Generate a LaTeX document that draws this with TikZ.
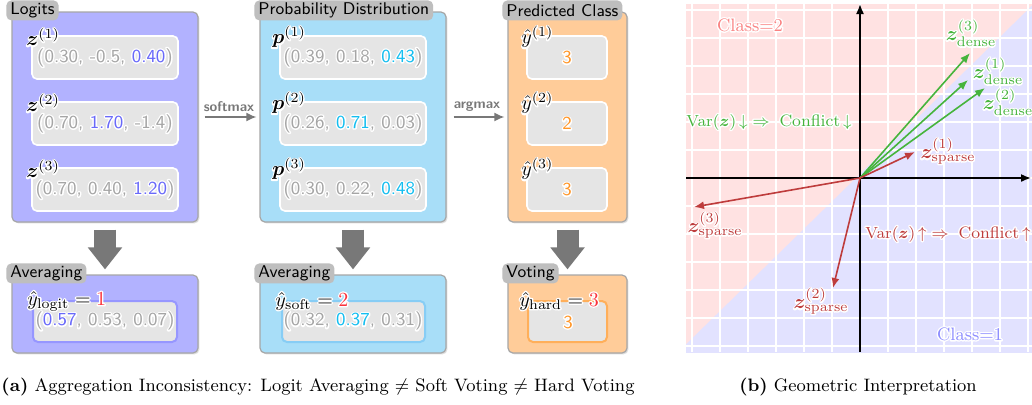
\documentclass[tikz,border=0pt]{standalone}
\usepackage{bm}
\usetikzlibrary{arrows.meta,shadows}
\definecolor{lav}{RGB}{178,178,255}
\definecolor{sky}{RGB}{168,222,248}
\definecolor{peach}{RGB}{255,204,153}
\definecolor{lavborder}{RGB}{150,150,255}
\definecolor{skyborder}{RGB}{135,205,245}
\definecolor{peachborder}{RGB}{255,175,90}
\definecolor{tabgray}{RGB}{190,190,190}
\definecolor{innergray}{RGB}{229,229,229}
\definecolor{valgray}{RGB}{165,165,165}
\definecolor{hlblue}{RGB}{105,105,250}
\definecolor{hlcyan}{RGB}{20,190,240}
\definecolor{hlorange}{RGB}{255,150,40}
\definecolor{hlred}{RGB}{250,50,60}
\definecolor{pinkbg}{RGB}{255,226,226}
\definecolor{lavbg}{RGB}{226,226,255}
\definecolor{vgreen}{RGB}{70,180,60}
\definecolor{vred}{RGB}{190,60,60}
\definecolor{classred}{RGB}{250,130,130}
\definecolor{classblue}{RGB}{140,140,255}
\definecolor{arrowgray}{RGB}{120,120,120}
% text with a white halo: one stroked white copy under the coloured text
\newcommand{\ctr}[2]{\leavevmode\rlap{\special{pdf:literal direct q 1 Tr 1 1 1 RG 1.4 w 1 j 1 J}#2\special{pdf:literal direct Q}}{\color{#1}#2}}
\begin{document}
\begin{tikzpicture}[x=0.5pt,y=-0.5pt,
 outerbox/.style={draw=black!35, line width=0.6pt, rounded corners=2.5pt, drop shadow={shadow xshift=0.7pt, shadow yshift=-0.7pt, opacity=0.25}, inner sep=0pt},
 tabbox/.style={fill=tabgray, rounded corners=2.5pt, anchor=north west, minimum height=10pt, inner xsep=2pt, inner ysep=0pt, font=\sffamily\fontsize{8.5}{10}\selectfont},
 innerbox/.style={fill=innergray, draw=white, line width=0.8pt, rounded corners=2.5pt, inner sep=0pt},
 valtxt/.style={font=\sffamily\fontsize{9.2}{11}\selectfont, inner sep=0pt},
 labtxt/.style={font=\fontsize{10}{12}\selectfont, inner sep=0pt, anchor=west},
 flow/.style={draw=arrowgray, line width=0.8pt, -{Latex[length=5pt,width=4.5pt]}},
 flowlab/.style={font=\sffamily\bfseries\fontsize{7}{8}\selectfont, text=arrowgray, inner sep=1pt},
 bigarrow/.style={draw=arrowgray, line width=11pt, -{Triangle[length=11pt,width=16.5pt]}},
 vec/.style={line width=0.8pt, -{Latex[length=5pt,width=4pt]}},
 axisline/.style={line width=0.8pt, -{Latex[length=5pt,width=4pt]}},
 plab/.style={font=\fontsize{10}{12}\selectfont, inner sep=0pt},
 ptxt/.style={font=\fontsize{9}{11}\selectfont, inner sep=0pt},
 vartxt/.style={font=\fontsize{8.3}{10}\selectfont, inner sep=0pt, anchor=west},
 captxt/.style={font=\fontsize{9}{11}\selectfont, inner sep=0pt}]
\fill[white] (0,0) rectangle (1032,404);
\useasboundingbox (0,0) rectangle (1032,404);

% ---------- top row ----------
\node[outerbox, fill=lav, minimum width=93pt, minimum height=105pt] (logits) at (105,117) {};
\node[outerbox, fill=sky, minimum width=93pt, minimum height=105pt] (prob) at (353,117) {};
\node[outerbox, fill=peach, minimum width=59.5pt, minimum height=105pt] (cls) at (567.5,117) {};
\node[tabbox] (tlogits) at (6,0) {Logits};
\node[tabbox] (tprob) at (254,0) {Probability Distribution};
\node[tabbox] (tcls) at (502,0) {Predicted Class};

\foreach \i/\y in {1/57.5,2/123.5,3/189.5}{
  \node[innerbox, minimum width=73pt, minimum height=21.5pt] (lb\i) at (105,\y) {};
  \node[innerbox, minimum width=73pt, minimum height=21.5pt] (pb\i) at (353,\y) {};
  \node[innerbox, minimum width=40pt, minimum height=21.5pt] (cb\i) at (567,\y) {};
}
\node[valtxt] (lv1) at (105,57.5) {\ctr{valgray}{(0.30, -0.5,} \ctr{hlblue}{0.40}\ctr{valgray}{)}};
\node[valtxt] (lv2) at (105,123.5) {\ctr{valgray}{(0.70,} \ctr{hlblue}{1.70}\ctr{valgray}{, -1.4)}};
\node[valtxt] (lv3) at (105,189.5) {\ctr{valgray}{(0.70, 0.40,} \ctr{hlblue}{1.20}\ctr{valgray}{)}};
\node[valtxt] (pv1) at (353,57.5) {\ctr{valgray}{(0.39, 0.18,} \ctr{hlcyan}{0.43}\ctr{valgray}{)}};
\node[valtxt] (pv2) at (353,123.5) {\ctr{valgray}{(0.26,} \ctr{hlcyan}{0.71}\ctr{valgray}{, 0.03)}};
\node[valtxt] (pv3) at (353,189.5) {\ctr{valgray}{(0.30, 0.22,} \ctr{hlcyan}{0.48}\ctr{valgray}{)}};
\node[valtxt] (cv1) at (567,57.5) {\ctr{hlorange}{3}};
\node[valtxt] (cv2) at (567,123.5) {\ctr{hlorange}{2}};
\node[valtxt] (cv3) at (567,189.5) {\ctr{hlorange}{3}};

\foreach \i/\y in {1/37,2/103,3/169}{
  \node[labtxt] (lz\i) at (26,\y) {\ctr{black}{$\bm{z}^{(\i)}$}};
  \node[labtxt] (lp\i) at (272,\y) {\ctr{black}{$\bm{p}^{(\i)}$}};
  \node[labtxt] (ly\i) at (521,\y) {\ctr{black}{$\hat{y}^{(\i)}$}};
}

\draw[flow, shorten <=3pt, shorten >=1.5pt] (logits.east) -- node[flowlab, above=1.5pt] (sm) {softmax} (prob.west);
\draw[flow, shorten <=3.5pt, shorten >=1.5pt] (prob.east) -- node[flowlab, above=1.5pt] (am) {argmax} (cls.west);

% ---------- bottom row ----------
\node[outerbox, fill=lav, minimum width=93pt, minimum height=39pt] (avg1) at (105,314) {};
\node[outerbox, fill=sky, minimum width=93pt, minimum height=39pt] (avg2) at (353,314) {};
\node[outerbox, fill=peach, minimum width=59.5pt, minimum height=39pt] (vote) at (567.5,314) {};
\node[tabbox] (tavg1) at (6,263) {Averaging};
\node[tabbox] (tavg2) at (254,263) {Averaging};
\node[tabbox] (tvote) at (502,263) {Voting};
\node[innerbox, draw=lavborder, line width=1pt, minimum width=72pt, minimum height=20.5pt] (ab1) at (105,321.5) {};
\node[innerbox, draw=skyborder, line width=1pt, minimum width=71.5pt, minimum height=20.5pt] (ab2) at (353.5,321.5) {};
\node[innerbox, draw=peachborder, line width=1pt, minimum width=39.5pt, minimum height=20.5pt] (ab3) at (567.5,321.5) {};
\node[valtxt] (av1) at (105,321) {\ctr{valgray}{(}\ctr{hlblue}{0.57}\ctr{valgray}{, 0.53, 0.07)}};
\node[valtxt] (av2) at (353,321) {\ctr{valgray}{(0.32,} \ctr{hlcyan}{0.37}\ctr{valgray}{, 0.31)}};
\node[valtxt] (av3) at (568,322) {\ctr{hlorange}{3}};
\node[labtxt] (ry1) at (27,301) {\ctr{black}{$\hat{y}_{\mathrm{logit}}={}$}\ctr{hlred}{$1$}};
\node[labtxt] (ry2) at (275,301) {\ctr{black}{$\hat{y}_{\mathrm{soft}}={}$}\ctr{hlred}{$2$}};
\node[labtxt] (ry3) at (519,301) {\ctr{black}{$\hat{y}_{\mathrm{hard}}={}$}\ctr{hlred}{$3$}};

\draw[bigarrow, shorten <=3.5pt, shorten >=2.5pt] (logits.south) -- (avg1.north);
\draw[bigarrow, shorten <=3.5pt, shorten >=2.5pt] (prob.south) -- (avg2.north);
\draw[bigarrow, shorten <=3.5pt, shorten >=2.5pt] (cls.south) -- (vote.north);

\node[captxt] (capa) at (318,387) {\textbf{(a)} Aggregation Inconsistency: Logit Averaging $\neq$ Soft Voting $\neq$ Hard Voting};

% ---------- geometric panel ----------
\begin{scope}
\clip (686,4) rectangle (1040,352);
\fill[pinkbg] (680,-2) -- (1050,-2) -- (680,358) -- cycle;
\fill[lavbg] (1050,-12) -- (1050,360) -- (670,360) -- cycle;
\foreach \k in {-6,...,6}{
  \draw[white, line width=0.7pt] (860+28*\k,4) -- (860+28*\k,352);
  \draw[white, line width=0.7pt] (686,178+28*\k) -- (1040,178+28*\k);
}
\end{scope}
\coordinate (O) at (860,178);
\coordinate (xl) at (686,178);
\coordinate (xr) at (1031,178);
\coordinate (yb) at (860,352);
\coordinate (yt) at (860,4);
\draw[axisline] (xl) -- (xr);
\draw[axisline] (yb) -- (yt);

\coordinate (d3) at (970,53);
\coordinate (d1) at (968,80);
\coordinate (d2) at (985,88);
\coordinate (s1) at (915,152);
\coordinate (s3) at (694,207);
\coordinate (s2) at (833,288);
\draw[vec, vgreen] (O) -- (d3);
\draw[vec, vgreen] (O) -- (d1);
\draw[vec, vgreen] (O) -- (d2);
\draw[vec, vred] (O) -- (s1);
\draw[vec, vred] (O) -- (s3);
\draw[vec, vred] (O) -- (s2);

\node[plab] (ld3) at (971,33) {\ctr{vgreen}{$\bm{z}^{(3)}_{\mathrm{dense}}$}};
\node[plab] (ld1) at (998,71) {\ctr{vgreen}{$\bm{z}^{(1)}_{\mathrm{dense}}$}};
\node[plab] (ld2) at (1008,102) {\ctr{vgreen}{$\bm{z}^{(2)}_{\mathrm{dense}}$}};
\node[plab] (ls1) at (948,151) {\ctr{vred}{$\bm{z}^{(1)}_{\mathrm{sparse}}$}};
\node[plab] (ls3) at (715,225) {\ctr{vred}{$\bm{z}^{(3)}_{\mathrm{sparse}}$}};
\node[plab] (ls2) at (821,301) {\ctr{vred}{$\bm{z}^{(2)}_{\mathrm{sparse}}$}};

\node[ptxt] (c2) at (750,25) {\ctr{classred}{Class=2}};
\node[ptxt] (c1) at (970,334) {\ctr{classblue}{Class=1}};
\node[vartxt] (vdown) at (686,122) {\ctr{vgreen}{$\mathrm{Var}(\bm{z})\,{\downarrow}$\hspace{2.5pt}$\Rightarrow$\hspace{5pt}Conflict\hspace{1.5pt}${\downarrow}$}};
\node[vartxt] (vup) at (865,234) {\ctr{vred}{$\mathrm{Var}(\bm{z})\,{\uparrow}$\hspace{2.5pt}$\Rightarrow$\hspace{5pt}Conflict\hspace{1.5pt}${\uparrow}$}};

\node[captxt] (capb) at (858,387) {\textbf{(b)} Geometric Interpretation};
\end{tikzpicture}
\end{document}
